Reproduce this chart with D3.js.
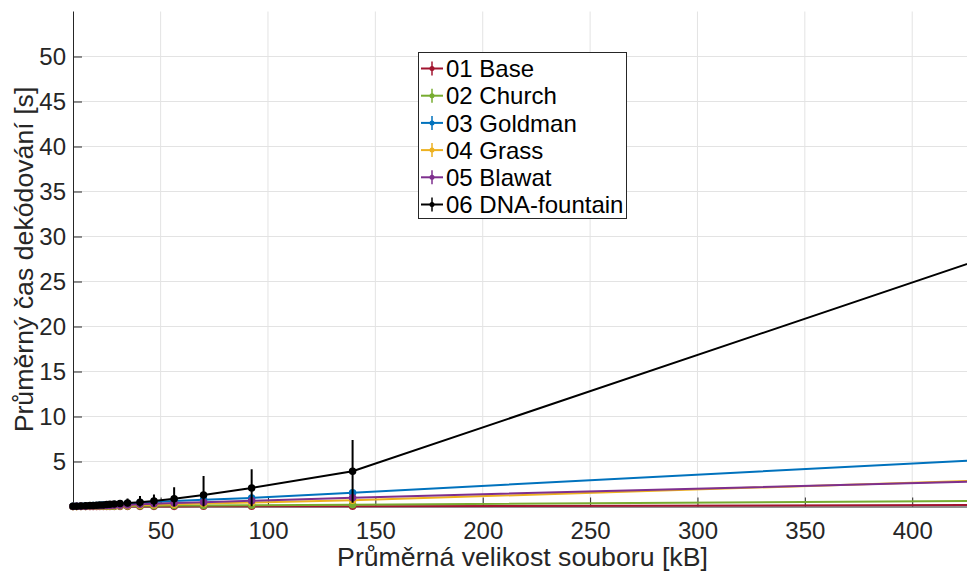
<!DOCTYPE html>
<html>
<head>
<meta charset="utf-8">
<script src="https://cdn.jsdelivr.net/npm/d3@7"></script>
<style>
  html, body { margin: 0; padding: 0; background: #fff; overflow: hidden; }
  svg { display: block; }
</style>
</head>
<body>
<svg id="chart" width="967" height="571"></svg>
<script>
// ---- data ----
const fileSizes = [9.2, 10.9, 12.9, 15.1, 17.1, 18.6, 20.2, 21.7, 23.3, 24.9, 26.4, 28.4, 31.1, 34.6, 40.4, 46.9, 56.3, 70.0, 92.4, 139.4, 430];

const seriesNames = ["01 Base", "02 Church", "03 Goldman", "04 Grass", "05 Blawat", "06 DNA-fountain"];
const seriesColors = ["#A2142F", "#77AC30", "#0072BD", "#EDB120", "#7E2F8E", "#000000"];

const baseMean     = [0.00, 0.00, 0.00, 0.00, 0.00, 0.00, 0.00, 0.01, 0.01, 0.01, 0.01, 0.01, 0.01, 0.01, 0.01, 0.01, 0.01, 0.02, 0.02, 0.03, 0.17];
const churchMean   = [0.00, 0.01, 0.01, 0.01, 0.02, 0.02, 0.02, 0.03, 0.03, 0.03, 0.04, 0.04, 0.05, 0.06, 0.07, 0.08, 0.10, 0.12, 0.14, 0.20, 0.62];
const goldmanMean  = [0.02, 0.03, 0.05, 0.07, 0.09, 0.10, 0.12, 0.14, 0.16, 0.18, 0.20, 0.23, 0.27, 0.32, 0.42, 0.50, 0.60, 0.75, 0.95, 1.53, 5.15];
const grassMean    = [0.01, 0.01, 0.02, 0.03, 0.03, 0.04, 0.05, 0.05, 0.06, 0.07, 0.08, 0.09, 0.10, 0.12, 0.16, 0.20, 0.26, 0.33, 0.45, 0.69, 2.87];
const blawatMean   = [0.01, 0.02, 0.03, 0.04, 0.05, 0.06, 0.07, 0.08, 0.09, 0.10, 0.11, 0.13, 0.15, 0.18, 0.24, 0.30, 0.38, 0.48, 0.63, 0.98, 2.79];
const fountainMean = [0.03, 0.04, 0.06, 0.08, 0.10, 0.12, 0.14, 0.16, 0.18, 0.21, 0.24, 0.28, 0.33, 0.40, 0.47, 0.62, 0.85, 1.28, 2.06, 3.91, 27.3];

const baseErr      = [0.00, 0.00, 0.00, 0.00, 0.00, 0.00, 0.00, 0.00, 0.00, 0.00, 0.00, 0.00, 0.00, 0.00, 0.00, 0.00, 0.01, 0.01, 0.01, 0.01, 0.05];
const churchErr    = [0.00, 0.00, 0.00, 0.00, 0.00, 0.00, 0.01, 0.01, 0.01, 0.01, 0.01, 0.01, 0.01, 0.01, 0.02, 0.02, 0.02, 0.03, 0.03, 0.04, 0.10];
const goldmanErr   = [0.01, 0.01, 0.01, 0.02, 0.02, 0.02, 0.03, 0.03, 0.03, 0.04, 0.04, 0.05, 0.05, 0.06, 0.08, 0.10, 0.12, 0.15, 0.18, 0.25, 0.80];
const grassErr     = [0.00, 0.00, 0.01, 0.01, 0.01, 0.01, 0.01, 0.01, 0.01, 0.02, 0.02, 0.02, 0.02, 0.03, 0.04, 0.05, 0.06, 0.07, 0.09, 0.12, 0.40];
const blawatErr    = [0.00, 0.01, 0.01, 0.01, 0.01, 0.01, 0.02, 0.02, 0.02, 0.02, 0.03, 0.03, 0.03, 0.04, 0.05, 0.06, 0.08, 0.10, 0.12, 0.18, 0.50];
const fountainErr  = [0.02, 0.03, 0.04, 0.05, 0.07, 0.09, 0.12, 0.15, 0.18, 0.22, 0.26, 0.32, 0.40, 0.50, 0.70, 0.72, 1.30, 2.10, 2.07, 3.48, 5.00];

const xTicks = [50, 100, 150, 200, 250, 300, 350, 400];
const yTicks = [5, 10, 15, 20, 25, 30, 35, 40, 45, 50];

const xLabel = "Průměrná velikost souboru [kB]";
const yLabel = "Průměrný čas dekódování [s]";

// ---- build ----
const allMeans = [baseMean, churchMean, goldmanMean, grassMean, blawatMean, fountainMean];
const allErrs = [baseErr, churchErr, goldmanErr, grassErr, blawatErr, fountainErr];
const series = seriesNames.map((name, i) => ({
  name, color: seriesColors[i],
  points: fileSizes.map((xv, j) => ({ x: xv, y: allMeans[i][j], e: allErrs[i][j] }))
}));

const svg = d3.select("#chart");
const FONT = "'Liberation Sans', Arial, Helvetica, sans-serif";
const TXT = "#262626";

const pLeft = 73, pRight = 967, pTop = 11.5, pBottom = 506.5;
const xPxPerUnit = 2.1474;
const x = d3.scaleLinear().domain([9.2, 430]).range([pLeft, pLeft + (430 - 9.2) * xPxPerUnit]);
const y = d3.scaleLinear().domain([0, 55]).range([pBottom, pTop]);

svg.append("defs").append("clipPath").attr("id", "plotclip")
  .append("rect").attr("x", pLeft - 6).attr("y", pTop).attr("width", pRight - pLeft + 6).attr("height", pBottom - pTop);

// grid
const grid = svg.append("g");
grid.selectAll("line.v").data(xTicks).join("line")
  .attr("x1", d => x(d)).attr("x2", d => x(d))
  .attr("y1", pTop).attr("y2", pBottom)
  .attr("stroke", "#e3e3e3").attr("stroke-width", 1);
grid.selectAll("line.h").data(yTicks).join("line")
  .attr("x1", pLeft).attr("x2", pRight)
  .attr("y1", d => y(d)).attr("y2", d => y(d))
  .attr("stroke", "#e3e3e3").attr("stroke-width", 1);

// axes
const xAxis = d3.axisBottom(x).tickValues(xTicks).tickSizeInner(-9).tickSizeOuter(0).tickPadding(15);
const yAxis = d3.axisLeft(y).tickValues(yTicks).tickSizeInner(-9).tickSizeOuter(0).tickPadding(7);

const gx = svg.append("g").attr("transform", `translate(0,${pBottom})`).call(xAxis);
const gy = svg.append("g").attr("transform", `translate(${pLeft},0)`).call(yAxis);
[gx, gy].forEach(g => {
  g.select(".domain").attr("stroke", TXT).attr("stroke-width", 1);
  g.selectAll(".tick line").attr("stroke", TXT).attr("stroke-width", 1);
  g.selectAll(".tick text").attr("fill", TXT).attr("font-family", FONT).attr("font-size", 24);
});
gx.select(".domain").attr("d", `M${pLeft},0.5H${pRight}`);
gy.select(".domain").attr("d", `M0.5,${pBottom}V${pTop}`);

// axis labels
svg.append("text").attr("x", 522.5).attr("y", 566)
  .attr("text-anchor", "middle").attr("font-family", FONT).attr("font-size", 26.7)
  .attr("fill", TXT).text(xLabel);
svg.append("text")
  .attr("transform", `translate(33,${259.5}) rotate(-90)`)
  .attr("text-anchor", "middle").attr("font-family", FONT).attr("font-size", 26.7)
  .attr("fill", TXT).text(yLabel);

// data
const line = d3.line().x(d => x(d.x)).y(d => y(d.y));
const dataG = svg.append("g");
series.forEach(s => {
  const g = dataG.append("g");
  g.append("path").datum(s.points).attr("d", line)
    .attr("fill", "none").attr("stroke", s.color).attr("stroke-width", 2);
  g.append("g").attr("clip-path", "url(#plotclip)")
    .selectAll("line").data(s.points).join("line")
    .attr("x1", d => x(d.x)).attr("x2", d => x(d.x))
    .attr("y1", d => y(d.y - d.e)).attr("y2", d => y(d.y + d.e))
    .attr("stroke", s.color).attr("stroke-width", 2);
  g.selectAll("circle").data(s.points).join("circle")
    .attr("cx", d => x(d.x)).attr("cy", d => y(d.y)).attr("r", 3)
    .attr("fill", s.color).attr("stroke", s.color).attr("stroke-width", 1.5);
});

// legend
const lg = svg.append("g");
lg.append("rect").attr("x", 418.5).attr("y", 52.5).attr("width", 208).attr("height", 166)
  .attr("fill", "#fff").attr("stroke", TXT).attr("stroke-width", 1);
series.forEach((s, i) => {
  const cy = 68.5 + i * 27.2;
  lg.append("line").attr("x1", 421).attr("x2", 443).attr("y1", cy).attr("y2", cy)
    .attr("stroke", s.color).attr("stroke-width", 2);
  lg.append("line").attr("x1", 432).attr("x2", 432).attr("y1", cy - 7).attr("y2", cy + 7)
    .attr("stroke", s.color).attr("stroke-width", 1.5);
  lg.append("circle").attr("cx", 432).attr("cy", cy).attr("r", 2.5).attr("fill", s.color);
  lg.append("text").attr("x", 446).attr("y", cy + 8.6).attr("font-family", FONT)
    .attr("font-size", 24).attr("fill", "#000").text(s.name);
});
</script>
</body>
</html>
